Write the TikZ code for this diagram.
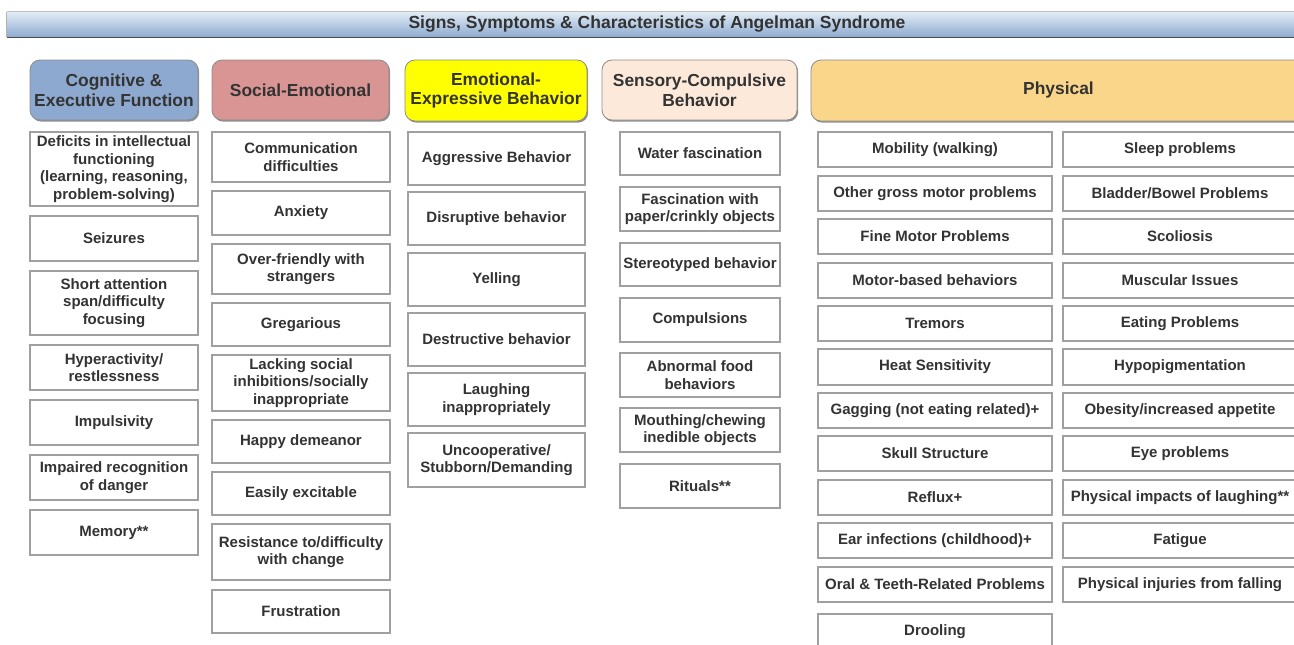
\documentclass[tikz,border=0pt]{standalone}
\usepackage{fontspec}
\setmainfont{Liberation Sans}
\usetikzlibrary{shadows}

\definecolor{txt}{HTML}{333333}
\definecolor{edge}{HTML}{A0A0A0}
\definecolor{cogfill}{HTML}{8DA9CF}
\definecolor{socfill}{HTML}{D99594}
\definecolor{emofill}{HTML}{FFFF00}
\definecolor{senfill}{HTML}{FDE9D9}
\definecolor{phyfill}{HTML}{FAD68A}
\definecolor{bartop}{HTML}{E2ECF5}
\definecolor{barbot}{HTML}{8CAAD0}

% one symptom cell: name, x1, y1, x2, y2, text
\newcommand\cellbox[6]{%
  \node[symptom, minimum width={(#4)-(#2)}, minimum height={(#5)-(#3)}]
    (#1) at ({((#2)+(#4))/2},{-((#3)+(#5))/2}) {#6};}
% one category heading: name, x1, y1, x2, y2, fill, text
\newcommand\headbox[7]{%
  \node[heading, fill=#6, minimum width={(#4)-(#2)}, minimum height={(#5)-(#3)}]
    (#1) at ({((#2)+(#4))/2},{-((#3)+(#5))/2}) {#7};}

\tikzset{
  symptom/.style={draw=edge, line width=1.1pt, fill=white, inner sep=0pt,
    align=center, text=txt,
    font=\fontsize{15}{17.5}\selectfont\bfseries},
  heading/.style={draw=black!45, line width=0.8pt, rounded corners=10pt,
    inner sep=0pt, align=center, text=txt,
    drop shadow={shadow xshift=1.2pt, shadow yshift=-1.6pt, fill=black!55,
      opacity=0.8},
    font=\fontsize{17.4}{20}\selectfont\bfseries},
  titlebar/.style={draw=none, inner sep=0pt, top color=bartop,
    bottom color=barbot, text=txt,
    font=\fontsize{17.5}{20}\selectfont\bfseries},
}

\begin{document}
\begin{tikzpicture}[x=1pt, y=1pt]
\useasboundingbox (0,0) rectangle (1294,-645);
\clip (0,0) rectangle (1294,-645);

% title banner
\node[titlebar, minimum width=1300, minimum height=25]
  (title) at (657,-24.5) {Signs, Symptoms \& Characteristics of Angelman Syndrome};
\draw[black!70, line width=1.4pt] (title.south west) -- (title.south east);
\draw[black!25, line width=0.8pt] (title.north west) -- (title.north east);
\draw[black!30, line width=0.8pt] (title.north west) -- (title.south west);

% category headings
\headbox{cog}{30}{60}{198}{120}{cogfill}{Cognitive \&\\Executive Function}
\headbox{soc}{212}{60}{389}{120}{socfill}{Social-Emotional}
\headbox{emo}{405}{60}{587}{121}{emofill}{Emotional-\\Expressive Behavior}
\headbox{sen}{602}{60}{797}{120}{senfill}{Sensory-Compulsive\\Behavior}
\headbox{phy}{811}{60}{1306}{121}{phyfill}{Physical}

% Cognitive & Executive Function
\cellbox{c1}{30}{132}{198}{206}{Deficits in intellectual\\functioning\\(learning, reasoning,\\problem-solving)}
\cellbox{c2}{30}{216}{198}{261}{Seizures}
\cellbox{c3}{30}{271}{198}{335}{Short attention\\span/difficulty\\focusing}
\cellbox{c4}{30}{345}{198}{390}{Hyperactivity/\\restlessness}
\cellbox{c5}{30}{400}{198}{445}{Impulsivity}
\cellbox{c6}{30}{455}{198}{500}{Impaired recognition\\of danger}
\cellbox{c7}{30}{510}{198}{555}{Memory**}

% Social-Emotional
\cellbox{s1}{212}{132}{390}{182}{Communication\\difficulties}
\cellbox{s2}{212}{191}{390}{235}{Anxiety}
\cellbox{s3}{212}{244}{390}{294}{Over-friendly with\\strangers}
\cellbox{s4}{212}{303}{390}{346}{Gregarious}
\cellbox{s5}{212}{355}{390}{411}{Lacking social\\inhibitions/socially\\inappropriate}
\cellbox{s6}{212}{420}{390}{463}{Happy demeanor}
\cellbox{s7}{212}{472}{390}{515}{Easily excitable}
\cellbox{s8}{212}{524}{390}{580}{Resistance to/difficulty\\with change}
\cellbox{s9}{212}{590}{390}{633}{Frustration}

% Emotional-Expressive Behavior
\cellbox{e1}{408}{132}{585}{185}{Aggressive Behavior}
\cellbox{e2}{408}{192}{585}{245}{Disruptive behavior}
\cellbox{e3}{408}{253}{585}{306}{Yelling}
\cellbox{e4}{408}{313}{585}{366}{Destructive behavior}
\cellbox{e5}{408}{373}{585}{426}{Laughing\\inappropriately}
\cellbox{e6}{408}{433}{585}{487}{Uncooperative/\\Stubborn/Demanding}

% Sensory-Compulsive Behavior
\cellbox{k1}{620}{132}{780}{175}{Water fascination}
\cellbox{k2}{620}{187}{780}{231}{Fascination with\\paper/crinkly objects}
\cellbox{k3}{620}{243}{780}{286}{Stereotyped behavior}
\cellbox{k4}{620}{298}{780}{342}{Compulsions}
\cellbox{k5}{620}{353}{780}{397}{Abnormal food\\behaviors}
\cellbox{k6}{620}{408}{780}{452}{Mouthing/chewing\\inedible objects}
\cellbox{k7}{620}{464}{780}{508}{Rituals**}

% Physical, first column
\cellbox{p1}{818}{132}{1052}{167}{Mobility (walking)}
\cellbox{p2}{818}{176}{1052}{211}{Other gross motor problems}
\cellbox{p3}{818}{219}{1052}{254}{Fine Motor Problems}
\cellbox{p4}{818}{263}{1052}{298}{Motor-based behaviors}
\cellbox{p5}{818}{306}{1052}{341}{Tremors}
\cellbox{p6}{818}{349}{1052}{385}{Heat Sensitivity}
\cellbox{p7}{818}{393}{1052}{428}{Gagging (not eating related)+}
\cellbox{p8}{818}{436}{1052}{471}{Skull Structure}
\cellbox{p9}{818}{480}{1052}{515}{Reflux+}
\cellbox{p10}{818}{523}{1052}{558}{Ear infections (childhood)+}
\cellbox{p11}{818}{567}{1052}{602}{Oral \& Teeth-Related Problems}
\cellbox{p12}{818}{614}{1052}{649}{Drooling}

% Physical, second column
\cellbox{q1}{1063}{132}{1297}{167}{Sleep problems}
\cellbox{q2}{1063}{176}{1297}{211}{Bladder/Bowel Problems}
\cellbox{q3}{1063}{219}{1297}{254}{Scoliosis}
\cellbox{q4}{1063}{263}{1297}{298}{Muscular Issues}
\cellbox{q5}{1063}{306}{1297}{341}{Eating Problems}
\cellbox{q6}{1063}{349}{1297}{385}{Hypopigmentation}
\cellbox{q7}{1063}{393}{1297}{428}{Obesity/increased appetite}
\cellbox{q8}{1063}{436}{1297}{471}{Eye problems}
\cellbox{q9}{1063}{480}{1297}{515}{Physical impacts of laughing**}
\cellbox{q10}{1063}{523}{1297}{558}{Fatigue}
\cellbox{q11}{1063}{567}{1297}{602}{Physical injuries from falling}
\end{tikzpicture}
\end{document}
